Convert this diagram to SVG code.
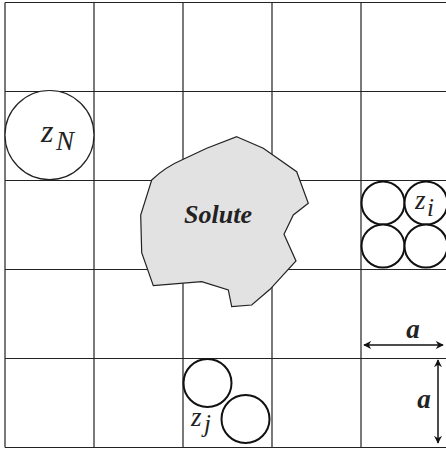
<svg xmlns="http://www.w3.org/2000/svg" width="446" height="449" viewBox="0 0 446 449">
<style>
.grid{stroke:#222;stroke-width:1.2;fill:none}
.thin{fill:#fff;stroke:#222;stroke-width:1.2}
.thick{fill:#fff;stroke:#111;stroke-width:2}
.arr{stroke:#111;stroke-width:1.5;fill:none;marker-start:url(#ah);marker-end:url(#ah)}
</style>
<defs>
<marker id="ah" viewBox="0 0 10 10" refX="9" refY="5" markerWidth="8" markerHeight="8" orient="auto-start-reverse" markerUnits="userSpaceOnUse">
<path d="M0,0 L10,5 L0,10 L3,5 z" fill="#111"/>
</marker>
</defs>
<g id="grid" class="grid">
<path d="M5,2.5 V447.5 M94,2.5 V447.5 M183,2.5 V447.5 M272,2.5 V447.5 M361,2.5 V447.5"/>
<path d="M5,2.5 H450 M5,91.5 H450 M5,180.5 H450 M5,269.5 H450 M5,358.5 H450 M5,447.5 H450"/>
</g>
<g font-family="Liberation Serif, Times New Roman, serif" font-style="italic" fill="#222">
<g id="solute">
<path d="M236.7,136.7 L263.3,148.3 L296.7,171.7 L308.3,203.3 L293.3,215 L284,234.3 L296,261 L270,289.3 L251.7,305 L231.7,306.7 L228.3,290 L201.7,281.7 L153.3,285.7 L141.7,252.7 L140.7,215 L151.7,180 C160,172 170,165 183.3,159.3 L206.7,148.3 Z" fill="#e2e2e2" stroke="#222" stroke-width="1.2"/>
<text font-weight="bold" x="218" y="223" font-size="26" text-anchor="middle">Solute</text>
</g>
<g id="zN">
<circle class="thin" cx="49.5" cy="135" r="44.5"/>
<text x="41" y="142" font-size="32">z</text><text x="56" y="150" font-size="27">N</text>
</g>
<g id="zi">
<circle class="thick" cx="383" cy="203" r="21.5"/>
<circle class="thick" cx="426" cy="203" r="21.5"/>
<circle class="thick" cx="383" cy="246" r="21.5"/>
<circle class="thick" cx="426" cy="246" r="21.5"/>
<text x="415" y="209" font-size="27">z</text><text x="427" y="216" font-size="25">i</text>
</g>
<g id="zj">
<circle class="thick" cx="207.5" cy="383" r="24"/>
<circle class="thick" cx="245.5" cy="419" r="24"/>
<text x="191" y="426" font-size="27">z</text><text x="204" y="432" font-size="25">j</text>
</g>
<g id="labels">
<text font-weight="bold" x="413" y="338" font-size="27" text-anchor="middle">a</text>
<text font-weight="bold" x="424" y="408" font-size="27" text-anchor="middle">a</text>
</g>
</g>
<g id="connectors">
<line class="arr" x1="364" y1="345" x2="443" y2="345"/>
<line class="arr" x1="438" y1="360" x2="438" y2="443"/>
</g>
</svg>
